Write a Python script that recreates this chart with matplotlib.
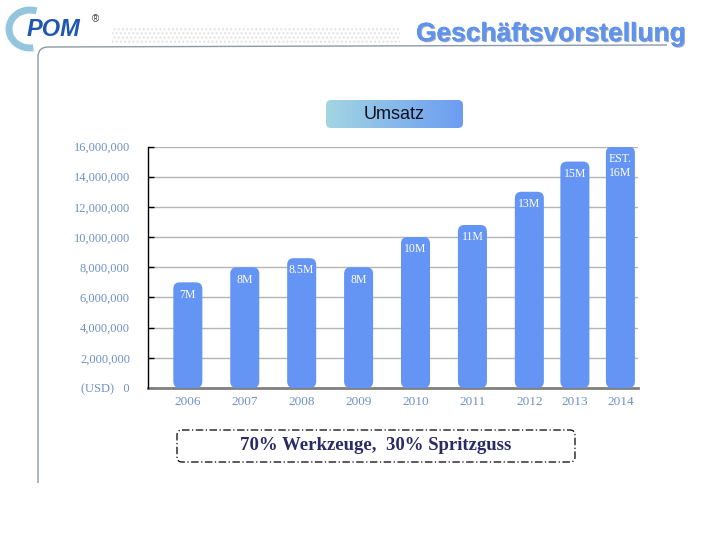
import numpy as np
import matplotlib.pyplot as plt
from matplotlib.patches import FancyBboxPatch, Arc, Rectangle, PathPatch
from matplotlib.path import Path
from matplotlib.colors import LinearSegmentedColormap
import matplotlib.patheffects as pe

# ------------------------------------------------------------------ #
# Data
# ------------------------------------------------------------------ #
years = ["2006", "2007", "2008", "2009", "2010", "2011", "2012", "2013", "2014"]
revenue = [7.0e6, 8.0e6, 8.6e6, 8.0e6, 10.0e6, 10.8e6, 13.0e6, 15.0e6, 16.0e6]
bar_labels = ["7M", "8M", "8.5M", "8M", "10M", "11M", "13M", "15M", "EST.\n16M"]
y_ticks = [0, 2e6, 4e6, 6e6, 8e6, 10e6, 12e6, 14e6, 16e6]
y_tick_labels = ["(USD)   0", "2,000,000", "4,000,000", "6,000,000", "8,000,000",
                 "10,000,000", "12,000,000", "14,000,000", "16,000,000"]
title = "Geschäftsvorstellung"
chart_title = "Umsatz"
note = "70% Werkzeuge,  30% Spritzguss"

# layout: the last two bars sit closer together in the original slide
slot_step = [1, 1, 1, 1, 1, 1, 1, 0.8, 0.8]
x_pos = np.cumsum(slot_step) - 1

BAR_COLOR = "#6495f5"
TICK_COLOR = "#6f8fc8"
SERIF = ["Liberation Serif", "DejaVu Serif"]
SANS = ["Liberation Sans", "DejaVu Sans"]

fig = plt.figure(figsize=(7.2, 5.4), dpi=100)
fig.patch.set_facecolor("white")

# ------------------------------------------------------------------ #
# Decoration layer in pixel coordinates
# ------------------------------------------------------------------ #
deco = fig.add_axes([0, 0, 1, 1], zorder=0)
deco.axis("off")

# frame line: vertical on the left, rounded corner, header rule
verts = [(38, 483), (38, 57), (38, 47), (48, 47), (667, 45)]
codes = [Path.MOVETO, Path.LINETO, Path.CURVE3, Path.CURVE3, Path.LINETO]
deco.add_patch(PathPatch(Path(verts, codes), fill=False, edgecolor="#8a9aa8", lw=1.0))

# logo
deco.add_patch(Arc((30, 29), 42, 38, theta1=80, theta2=290, lw=5, color="#93c6dc"))
deco.text(27, 30, "POM", fontsize=17, fontweight="bold", style="italic",
          color="#1f56b0", family=SANS, va="center", ha="left")
deco.text(92, 19, "®", fontsize=7, color="#404040", family=SANS, va="center")

# faint equaliser pattern in the header
deco.add_patch(Rectangle((112, 26), 288, 18, fill=False, hatch="....",
                         edgecolor="#e2e2e2", lw=0))

# header title
deco.text(686, 34, title, fontsize=19, fontweight="bold", color="#5e93ee",
          family=SANS, ha="right", va="center",
          path_effects=[pe.withSimplePatchShadow(offset=(0.8, -0.8), shadow_rgbFace="#9aa4b4",
                                                 alpha=0.9),
                        pe.Normal()])

# "Umsatz" gradient box
box = FancyBboxPatch((326, 100), 137, 28, boxstyle="round,pad=0,rounding_size=5",
                     transform=deco.transData, facecolor="none", edgecolor="none")
deco.add_patch(box)
grad = np.linspace(0, 1, 256).reshape(1, -1)
cmap = LinearSegmentedColormap.from_list("umsatz", ["#a2d6e2", "#6c9cf2"])
im = deco.imshow(grad, extent=[326, 463, 128, 100], cmap=cmap, aspect="auto")
im.set_clip_path(box)
deco.set_xlim(0, 720)
deco.set_ylim(540, 0)
deco.text(394.5, 114.5, chart_title, fontsize=13, color="#101020", family=SANS,
          ha="center", va="center")

# note box
deco.add_patch(FancyBboxPatch((177, 430), 398, 32, boxstyle="round,pad=0,rounding_size=5",
                              facecolor="none", edgecolor="black", lw=0.9,
                              linestyle=(0, (6, 2, 1, 2))))
deco.text(376, 446, note, fontsize=13.5, fontweight="bold", color="#2a2a68", family=SERIF,
          ha="center", va="center")

# ------------------------------------------------------------------ #
# Bar chart
# ------------------------------------------------------------------ #
ax = fig.add_axes([148 / 720, 1 - 388 / 540, (637.5 - 148) / 720, (388 - 146.5) / 540],
                  zorder=1)
ax.set_facecolor("none")
ax.set_xlim(-0.70, 7.9)
ax.set_ylim(0, 16e6)

ax.set_yticks(y_ticks)
ax.set_yticklabels(y_tick_labels, fontsize=9, color=TICK_COLOR, family=SERIF)
ax.set_xticks(x_pos)
ax.set_xticklabels(years, fontsize=9.5, color=TICK_COLOR, family=SERIF)
ax.tick_params(axis="y", direction="in", length=4, width=1, color="black", pad=13)
ax.tick_params(axis="x", length=0, pad=6)
ax.yaxis.grid(True, color="#b4b4b4", lw=1)
ax.set_axisbelow(True)

for side in ("top", "right"):
    ax.spines[side].set_visible(False)
ax.spines["left"].set_color("black")
ax.spines["left"].set_linewidth(1)
ax.spines["bottom"].set_color("#808080")
ax.spines["bottom"].set_linewidth(2)
ax.spines["bottom"].set_zorder(2)

bars = ax.bar(x_pos, revenue, width=0.51, color=BAR_COLOR)

# rounded bars: convert each rectangle into a rounded box of equal size
px_per_x = ax.transData.transform((1, 0))[0] - ax.transData.transform((0, 0))[0]
px_per_y = ax.transData.transform((0, 1e6))[1] - ax.transData.transform((0, 0))[1]
aspect = (1e6 / px_per_y) / (1 / px_per_x)
radius = 6.5 / px_per_x
for rect, lab in zip(bars, bar_labels):
    x0, y0 = rect.get_x(), rect.get_y()
    w, h = rect.get_width(), rect.get_height()
    rect.set_visible(False)
    ax.add_patch(FancyBboxPatch((x0, y0), w, h,
                                boxstyle=f"round,pad=0,rounding_size={radius}",
                                mutation_aspect=aspect, facecolor=BAR_COLOR,
                                edgecolor="none", zorder=3))
    ax.annotate(lab, (x0 + w / 2, y0 + h), xytext=(0, -4.5), textcoords="offset points",
                ha="center", va="top", fontsize=8.5, color="white", family=SERIF,
                linespacing=1.3, zorder=4)

fig.savefig("out.png", dpi=100)
